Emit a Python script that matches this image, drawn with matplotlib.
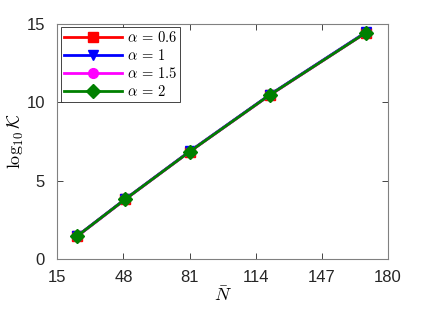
import numpy as np
import matplotlib
matplotlib.use('Agg')
import matplotlib.pyplot as plt

# data
N_bar = [25, 49, 81, 121, 169]
logK_06 = [1.47, 3.82, 6.84, 10.45, 14.42]
logK_1 = [1.48, 3.83, 6.86, 10.47, 14.45]
logK_15 = [1.46, 3.81, 6.84, 10.44, 14.42]
logK_2 = [1.47, 3.82, 6.84, 10.45, 14.42]
labels = [r'$\alpha\,=\,0.6$', r'$\alpha\,=\,1$', r'$\alpha\,=\,1.5$', r'$\alpha\,=\,2$']
xticks = [15, 48, 81, 114, 147, 180]
yticks = [0, 5, 10, 15]

plt.rcParams['font.family'] = ['Liberation Sans', 'DejaVu Sans']
plt.rcParams['mathtext.fontset'] = 'cm'

fig = plt.figure(figsize=(4.28, 3.14), dpi=100)
ax = fig.add_axes([0.134, 0.175, 0.772, 0.7495])

ax.plot(N_bar, logK_06, '-s', color='red', lw=2, ms=7, label=labels[0])
ax.plot(N_bar, logK_1, '-v', color='blue', lw=2, ms=7.5, label=labels[1])
ax.plot(N_bar, logK_15, '-o', color='magenta', lw=2, ms=7, label=labels[2])
ax.plot(N_bar, logK_2, '-D', color='green', lw=2, ms=7, label=labels[3])

ax.set_xlim(15, 180)
ax.set_ylim(0, 15)
ax.set_xticks(xticks)
ax.set_yticks(yticks)
ax.tick_params(direction='in', top=True, right=True, labelsize=12,
               colors='#262626', length=4, width=0.6)
ax.tick_params(axis='x', pad=8)
ax.tick_params(axis='y', pad=9)
for s in ax.spines.values():
    s.set_color('#808080')
    s.set_linewidth(0.8)

ax.set_xlabel(r'$\bar{N}$', fontsize=13, labelpad=1)
ax.set_ylabel(r'$\log_{10}\mathcal{K}$', fontsize=13, labelpad=0)

leg = ax.legend(loc='upper left', fontsize=10.5, fancybox=False,
                edgecolor='#262626', framealpha=1, borderpad=0.2,
                labelspacing=0.2, handlelength=4.0, handletextpad=0.3,
                borderaxespad=0.25)
leg.get_frame().set_linewidth(0.6)

fig.savefig('out.png', dpi=100)
